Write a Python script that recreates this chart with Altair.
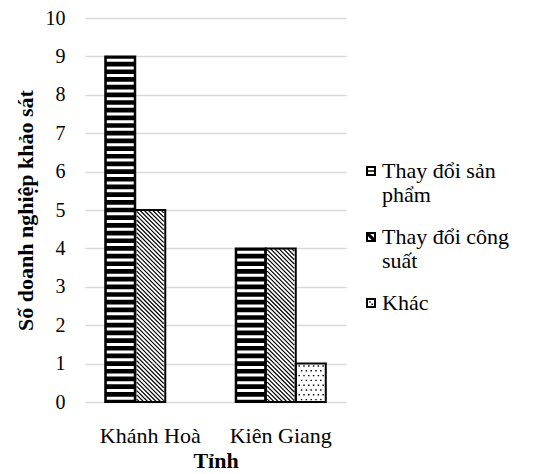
import altair as alt
import pandas as pd
import numpy as np

# ---------------- data ----------------
provinces = ["Khánh Hoà", "Kiên Giang"]
series_names = ["Thay đổi sản phẩm", "Thay đổi công suất", "Khác"]
val_san_pham = [9, 4]
val_cong_suat = [5, 4]
val_khac = [0, 1]
y_ticks = list(range(0, 11))
legend_lines = {
    "Thay đổi sản phẩm": ["Thay đổi sản", "phẩm"],
    "Thay đổi công suất": ["Thay đổi công", "suất"],
}

series_values = dict(zip(series_names, [val_san_pham, val_cong_suat, val_khac]))

rows = []
for s in series_names:
    for p, v in zip(provinces, series_values[s]):
        rows.append({"province": p, "series": s, "value": v})
bars_df = pd.DataFrame(rows)

# one "tile" per unit of bar height, used to draw the fill patterns
tile_rows = []
for r in rows:
    for k in range(int(r["value"])):
        tile_rows.append({"province": r["province"], "series": r["series"], "value": k + 0.5})
tiles_df = pd.DataFrame(tile_rows)

# ---------------- layout / style ----------------
W, H = 261, 384
FONT = "Liberation Serif"
LEG_FONT = "'Liberation Serif', serif"
FS_TICK = 20
FS = 22
Y_MAX = 10
PX_PER_UNIT = H / Y_MAX
TILE_R = PX_PER_UNIT / 2          # path unit -> pixels (vega: sqrt(size)/2)
TILE_SIZE = (2 * TILE_R) ** 2
BAR_W = 30
A = (BAR_W / 2 - 1.5) / TILE_R    # inner half width of a bar in path units


def fmt(v):
    return f"{v:.4f}".rstrip("0").rstrip(".")


# horizontal white stripes (5 per unit)
stripe_path = " ".join(f"M{fmt(-A)},{fmt(yy)}H{fmt(A)}" for yy in [-0.8, -0.4, 0.0, 0.4, 0.8])

# diagonal hatch
P = 2 / 9
segs = []
kmax = int(np.ceil((1 + A) / P)) + 1
for k in range(-kmax, kmax + 1):
    c = k * P
    x0 = max(-A, -1 - c)
    x1 = min(A, 1 - c)
    if x1 - x0 > 1e-6:
        segs.append(f"M{fmt(x0)},{fmt(x0 + c)}L{fmt(x1)},{fmt(x1 + c)}")
hatch_path = " ".join(segs)

# dots
D = 0.075
dots = []
for i in range(8):
    yy = -1 + 0.125 + 0.25 * i
    off = 0.0 if i % 2 == 0 else 0.125
    xx = -A + 0.1 + off
    while xx < A - 0.05:
        dots.append(f"M{fmt(xx - D/2)},{fmt(yy - D/2)}h{fmt(D)}v{fmt(D)}h{fmt(-D)}Z")
        xx += 0.25
dots_path = " ".join(dots)

# legend icons (nonzero fill, reversed sub-paths are holes)
frame = "M-1,-1H1V1H-1Z M-0.6,-0.6V0.6H0.6V-0.6Z"
icon_stripes = "M-1,-1H1V1H-1Z M-0.6,-0.6V-0.15H0.6V-0.6Z M-0.6,0.15V0.6H0.6V0.15Z"
icon_hatch = frame + " M-0.6,-0.6L-0.15,-0.6L0.6,0.15L0.6,0.6L0.15,0.6L-0.6,-0.15Z"
icon_dots = frame + " M-0.35,-0.35H-0.05V-0.05H-0.35Z M0.1,0.1H0.4V0.4H0.1Z"

label_expr = ""
for k, v in legend_lines.items():
    arr = "[" + ", ".join(f"'{t}'" for t in v) + "]"
    label_expr += f"datum.label == '{k}' ? {arr} : "
label_expr += "datum.label"

x_enc = alt.X(
    "province:N",
    sort=provinces,
    scale=alt.Scale(paddingInner=0.31, paddingOuter=0.155),
    axis=alt.Axis(
        title="Tỉnh", labelAngle=0, domain=False, ticks=False,
        labelFont=FONT, labelFontSize=FS, labelColor="black", labelPadding=23,
        titleFont=FONT, titleFontSize=FS, titleFontWeight="bold", titleColor="black",
        titlePadding=4,
    ),
)
xo_enc = alt.XOffset("series:N", sort=series_names,
                     scale=alt.Scale(domain=series_names, paddingInner=0, paddingOuter=0))
y_enc = alt.Y(
    "value:Q",
    scale=alt.Scale(domain=[0, Y_MAX], nice=False),
    axis=alt.Axis(
        title="Số doanh nghiệp khảo sát", values=y_ticks, grid=True,
        gridColor="#d9d9d9", gridWidth=1.3, domain=False, ticks=False,
        labelFont=FONT, labelFontSize=FS_TICK, labelColor="black", labelPadding=20,
        titleFont=FONT, titleFontSize=FS, titleFontWeight="bold", titleColor="black",
        titlePadding=8,
    ),
)

base_bars = alt.Chart(bars_df).transform_filter("datum.value > 0")

fill_layer = base_bars.mark_bar(strokeWidth=0).encode(
    x=x_enc, xOffset=xo_enc, y=y_enc,
    fill=alt.condition(alt.datum.series == series_names[0], alt.value("black"), alt.value("white")),
)

tiles = alt.Chart(tiles_df)
stripe_layer = tiles.transform_filter(alt.datum.series == series_names[0]).mark_point(
    shape=stripe_path, size=TILE_SIZE, filled=False, stroke="white", strokeWidth=3, opacity=1
).encode(x=x_enc, xOffset=xo_enc, y=y_enc)
hatch_layer = tiles.transform_filter(alt.datum.series == series_names[1]).mark_point(
    shape=hatch_path, size=TILE_SIZE, filled=False, stroke="black", strokeWidth=1.2, opacity=1
).encode(x=x_enc, xOffset=xo_enc, y=y_enc)
dots_layer = tiles.transform_filter(alt.datum.series == series_names[2]).mark_point(
    shape=dots_path, size=TILE_SIZE, filled=True, fill="black", strokeWidth=0, opacity=1
).encode(x=x_enc, xOffset=xo_enc, y=y_enc)

outline_layer = base_bars.mark_bar(fillOpacity=0, stroke="black", strokeWidth=2).encode(
    x=x_enc, xOffset=xo_enc, y=y_enc,
)

# invisible points that carry the legend
legend_layer = alt.Chart(bars_df).mark_point(
    filled=True, color="black", opacity=0, size=0
).encode(
    x=x_enc, xOffset=xo_enc, y=y_enc,
    shape=alt.Shape(
        "series:N",
        scale=alt.Scale(domain=series_names, range=[icon_stripes, icon_hatch, icon_dots]),
        legend=alt.Legend(
            title=None, orient="none", legendX=275, legendY=142,
            labelFont=LEG_FONT, labelFontSize=FS, labelColor="black", labelLimit=400,
            labelExpr=label_expr, symbolSize=100, symbolFillColor="black",
            symbolStrokeColor="black", symbolStrokeWidth=0, symbolOpacity=1,
            labelOffset=0, rowPadding=20,
        ),
    ),
)

chart = alt.layer(
    fill_layer, stripe_layer, hatch_layer, dots_layer, outline_layer, legend_layer
).properties(
    width=W, height=H,
    padding={"left": 85, "top": 18, "right": 540 - 85 - W, "bottom": 474 - 18 - H},
    autosize=alt.AutoSizeParams(type="none"),
    background="white",
).configure(font=FONT).configure_view(stroke=None).configure_legend(
    labelFont=LEG_FONT, labelFontSize=FS, labelColor="black"
)

chart.save("out.html", embed_options={"renderer": "svg", "actions": False})
